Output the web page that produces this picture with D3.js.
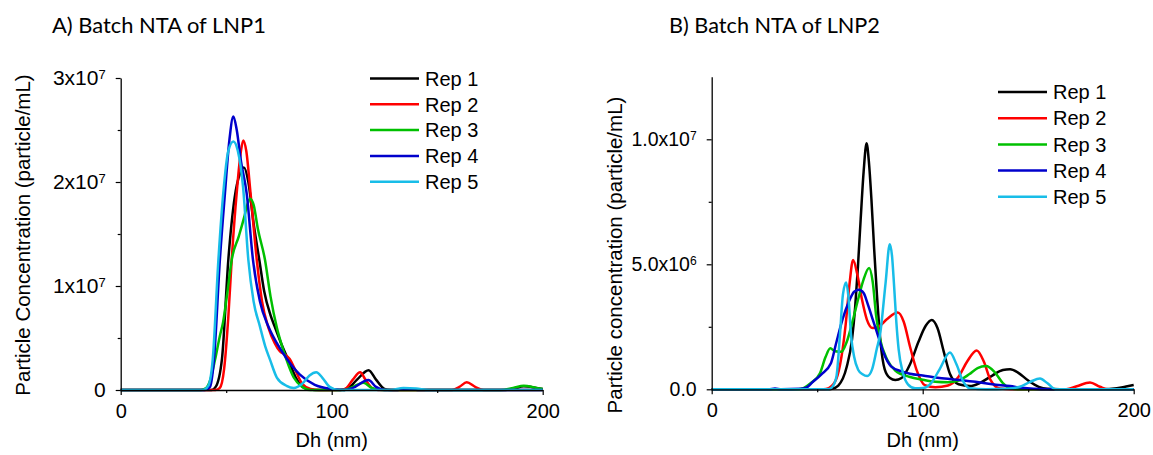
<!DOCTYPE html>
<html>
<head>
<meta charset="utf-8">
<script src="https://cdn.jsdelivr.net/npm/d3@7"></script>
<style>
  html, body { margin: 0; padding: 0; background: #fff; }
  svg { display: block; }
  text { font-family: 'Liberation Sans', Arial, sans-serif; fill: #000; }
  .title { font-family: Lato, 'Open Sans', sans-serif; }
</style>
</head>
<body>
<svg id="chart" width="1153" height="455"></svg>
<script>
// ---------------- DATA ----------------
const repNames = ["Rep 1", "Rep 2", "Rep 3", "Rep 4", "Rep 5"];
const dhTicks = [0, 100, 200];
const dhMinorTicks = [50, 150];

// Panel A: Batch NTA of LNP1 — [Dh (nm), particle/mL]
const lnp1Rep1 = [[0,0],[43,0],[45,0.03e7],[48,0.3e7],[51,1.25e7],[54,1.85e7],[56.5,2.08e7],[58.4,2.14e7],[60.5,2.0e7],[63,1.6e7],[65.7,1.25e7],[68,0.95e7],[71,0.72e7],[73,0.61e7],[76,0.45e7],[79.4,0.29e7],[83,0.12e7],[87,0.02e7],[92,0],[104,0],[108,0.02e7],[112,0.1e7],[117.5,0.19e7],[121,0.1e7],[125,0.01e7],[128,0],[180,0],[186,0.01e7],[191,0.035e7],[197,0.02e7],[200,0.01e7]];
const lnp1Rep2 = [[0,0],[45,0],[47,0.02e7],[49,0.2e7],[51,0.7e7],[52.6,1.25e7],[55,1.9e7],[57,2.3e7],[58.1,2.4e7],[59.5,2.3e7],[61.5,1.9e7],[64.5,1.25e7],[67,0.85e7],[70,0.6e7],[73,0.45e7],[75.5,0.37e7],[78,0.34e7],[80,0.3e7],[83,0.18e7],[86,0.06e7],[90,0.01e7],[94,0],[104,0],[107,0.02e7],[110,0.1e7],[113.5,0.17e7],[116,0.1e7],[119,0.02e7],[122,0],[157,0],[160.5,0.03e7],[164,0.074e7],[168,0.03e7],[172,0],[200,0]];
const lnp1Rep3 = [[0,0],[38,0],[40.5,0.02e7],[42.5,0.1e7],[44.7,0.29e7],[47,0.52e7],[48.5,0.65e7],[50.5,0.93e7],[52.6,1.25e7],[56,1.48e7],[58.5,1.66e7],[60,1.78e7],[61.3,1.84e7],[63,1.78e7],[65,1.55e7],[68.4,1.25e7],[71,0.9e7],[74,0.6e7],[76.5,0.42e7],[78.6,0.29e7],[82,0.12e7],[86,0.03e7],[90,0],[106,0],[110,0.03e7],[115,0.07e7],[119,0.02e7],[124,0],[180,0],[186,0.02e7],[191,0.04e7],[197,0.02e7],[200,0.01e7]];
const lnp1Rep4 = [[0,0],[40,0],[42.3,0.03e7],[44.2,0.29e7],[47,1.25e7],[49.4,1.89e7],[51.5,2.4e7],[53.4,2.63e7],[55,2.5e7],[57,2.2e7],[59.7,1.89e7],[62.7,1.25e7],[66,0.85e7],[70,0.61e7],[74,0.45e7],[78.7,0.3e7],[84.8,0.15e7],[92,0.05e7],[100,0.01e7],[106,0],[110,0.02e7],[117.4,0.096e7],[121,0.03e7],[125,0],[130,0],[136,0.01e7],[142,0],[200,0]];
const lnp1Rep5 = [[0,0],[39,0],[41.5,0.04e7],[43.6,0.29e7],[46.3,1.25e7],[48.6,1.89e7],[51,2.3e7],[53.4,2.39e7],[55.5,2.3e7],[58,1.95e7],[60.5,1.25e7],[63,0.85e7],[66,0.61e7],[68.5,0.42e7],[70.8,0.29e7],[74,0.12e7],[78.6,0.04e7],[82,0.02e7],[86,0.06e7],[89.5,0.14e7],[92.7,0.17e7],[95.5,0.12e7],[99,0.03e7],[103,0],[128,0],[134,0.02e7],[140,0.015e7],[146,0],[200,0]];

// Panel B: Batch NTA of LNP2 — [Dh (nm), particle/mL]
const lnp2Rep1 = [[0,0],[55,0],[57,0.02e6],[60,0.15e6],[64,0.9e6],[66.5,2.0e6],[68,3.3e6],[69.3,4.9e6],[70.6,6.8e6],[72,8.7e6],[73.4,9.84e6],[74.5,9.1e6],[75.7,7.6e6],[77,5.6e6],[78.3,3.8e6],[80,1.9e6],[82,0.8e6],[84.5,0.45e6],[87,0.37e6],[90,0.45e6],[94,1.0e6],[98,1.9e6],[101.5,2.55e6],[104.3,2.77e6],[107,2.45e6],[110,1.5e6],[113,0.6e6],[117,0.2e6],[122.4,0.13e6],[127,0.25e6],[133,0.55e6],[138,0.77e6],[141.4,0.8e6],[145,0.68e6],[150,0.35e6],[155,0.1e6],[159,0.02e6],[165,0],[185,0],[192,0.04e6],[197,0.12e6],[200,0.17e6]];
const lnp2Rep2 = [[0,0],[53,0],[55.5,0.05e6],[59,0.4e6],[61.5,1.3e6],[63.5,2.6e6],[65.3,4.2e6],[67,5.17e6],[69,4.6e6],[71.2,3.6e6],[73.5,2.8e6],[76.3,2.45e6],[79,2.5e6],[83,2.8e6],[88.2,3.07e6],[91,2.7e6],[94,1.7e6],[97,0.8e6],[101,0.17e6],[106,0.08e6],[112,0.15e6],[117,0.5e6],[121,1.1e6],[125.6,1.55e6],[129,1.1e6],[132,0.4e6],[136.6,0.03e6],[142,0],[168,0],[173,0.12e6],[179.3,0.27e6],[184,0.1e6],[188,0],[200,0]];
const lnp2Rep3 = [[0,0],[41,0],[43.5,0.05e6],[47,0.25e6],[51.3,0.64e6],[54,1.3e6],[56.2,1.64e6],[58.5,1.52e6],[61.5,1.5e6],[64,1.9e6],[67,2.8e6],[69.4,3.6e6],[72,4.4e6],[74.6,4.85e6],[76.3,4.3e6],[78,2.9e6],[79.8,2.0e6],[83.2,1.18e6],[87,0.75e6],[93.6,0.5e6],[100,0.38e6],[106,0.3e6],[112,0.28e6],[117,0.35e6],[122,0.6e6],[126,0.85e6],[130,0.93e6],[134,0.7e6],[138,0.25e6],[141.5,0.03e6],[146,0],[200,0]];
const lnp2Rep4 = [[0,0],[27,0],[30,0.03e6],[33,0],[42,0.02e6],[44.4,0.05e6],[48,0.3e6],[52,0.6e6],[56.5,1.04e6],[59,1.85e6],[62,2.8e6],[65,3.5e6],[67.5,3.9e6],[69.8,3.98e6],[72,3.85e6],[74,3.4e6],[76.3,2.8e6],[79,2.1e6],[81.5,1.45e6],[85,0.92e6],[90,0.72e6],[94,0.62e6],[100,0.55e6],[108,0.45e6],[117.7,0.37e6],[125,0.3e6],[133,0.2e6],[141.4,0.13e6],[147,0.06e6],[152.5,0.02e6],[160,0],[200,0]];
const lnp2Rep5 = [[0,0],[55,0],[57,0.08e6],[59.1,0.5e6],[60.8,2.2e6],[62.2,3.8e6],[63.7,4.27e6],[64.9,3.6e6],[66,2.2e6],[67.5,1.3e6],[69.4,0.78e6],[71.5,0.6e6],[73.7,0.53e6],[76,0.8e6],[78.2,1.6e6],[79.8,2.2e6],[82.4,4.25e6],[84.4,5.8e6],[85.5,5.3e6],[86.4,4.2e6],[87.5,2.7e6],[88.6,1.6e6],[90.5,0.7e6],[93,0.2e6],[96.4,0.04e6],[100,0.05e6],[104,0.25e6],[108,0.8e6],[112.9,1.47e6],[116,1.0e6],[119,0.35e6],[122.4,0.04e6],[130,0],[140,0.02e6],[146,0.1e6],[151,0.3e6],[155.6,0.43e6],[159,0.25e6],[163,0],[200,0]];

// Y ticks (value, mantissa, exponent)
const lnp1YTicks = [0, 1e7, 2e7, 3e7];
const lnp1YLabels = [["0",""],["1x10","7"],["2x10","7"],["3x10","7"]];
const lnp1YMinor = [0.5e7, 1.5e7, 2.5e7];
const lnp2YTicks = [0, 5e6, 1e7];
const lnp2YLabels = [["0.0",""],["5.0x10","6"],["1.0x10","7"]];
const lnp2YMinor = [2.5e6, 7.5e6];

// ---------------- DRAW ----------------
const colors = ["#000000", "#ff0000", "#00c000", "#0000cc", "#18bde8"];
const FONT = "'Liberation Sans', Arial, sans-serif";
const svg = d3.select("#chart");

function drawPanel(cfg) {
  const x = d3.scaleLinear().domain([0, 200]).range([cfg.xl, cfg.xr]);
  const y = d3.scaleLinear().domain([0, cfg.yMax]).range([cfg.yb, cfg.yt]);
  const g = svg.append("g");

  // title
  const t = g.append("text").attr("class", "title")
    .attr("x", cfg.titleX).attr("y", 33)
    .style("font-size", "22px").text(cfg.title);
  const tl = t.node().getComputedTextLength();
  t.style("font-size", (22 * cfg.titleW / tl).toFixed(2) + "px");

  // series
  const line = d3.line().x(d => x(d[0])).y(d => y(d[1])).curve(d3.curveMonotoneX);
  cfg.series.forEach((s, i) => {
    g.append("path").datum(s).attr("d", line)
      .attr("fill", "none").attr("stroke", colors[i])
      .attr("stroke-width", 2.5).attr("stroke-linejoin", "round");
  });

  // x axis
  const xa = g.append("g").attr("transform", `translate(0,${cfg.yb})`)
    .call(d3.axisBottom(x).tickValues(dhTicks).tickSize(5).tickSizeOuter(0).tickPadding(9));
  g.append("g").attr("transform", `translate(0,${cfg.yb})`)
    .call(d3.axisBottom(x).tickValues(dhMinorTicks).tickSize(3).tickSizeOuter(0).tickFormat(""))
    .select(".domain").remove();
  xa.selectAll("text").style("font-size", "20px").style("font-family", FONT);

  // y axis
  const ya = g.append("g").attr("transform", `translate(${cfg.xl},0)`)
    .call(d3.axisLeft(y).tickValues(cfg.yTicks).tickSize(5).tickSizeOuter(0).tickPadding(10));
  g.append("g").attr("transform", `translate(${cfg.xl},0)`)
    .call(d3.axisLeft(y).tickValues(cfg.yMinor).tickSize(3).tickSizeOuter(0).tickFormat(""))
    .select(".domain").remove();
  ya.selectAll("text").each(function(d, i) {
    const el = d3.select(this).text(null)
      .style("font-size", cfg.yTickFont + "px")
      .style("font-family", FONT);
    const lab = cfg.yLabels[i];
    el.append("tspan").text(lab[0]);
    if (lab[1]) el.append("tspan").attr("dy", "-0.5em").style("font-size", "0.62em").text(lab[1]);
  });
  g.selectAll(".domain").attr("stroke-width", 1.3);
  g.selectAll(".tick line").attr("stroke-width", 1.2);

  // axis titles
  g.append("text").attr("x", (cfg.xl + cfg.xr) / 2).attr("y", 447)
    .attr("text-anchor", "middle").style("font-size", "20px").style("font-family", FONT).text("Dh (nm)");
  g.append("text")
    .attr("transform", `translate(${cfg.yTitleX},${cfg.yTitleY}) rotate(-90)`)
    .attr("text-anchor", "middle").style("font-size", cfg.yTitleFont + "px")
    .style("font-family", FONT).text(cfg.yTitle);

  // legend
  repNames.forEach((n, i) => {
    const ly = cfg.legY + i * cfg.legStep;
    g.append("line").attr("x1", cfg.legX).attr("x2", cfg.legX + 49)
      .attr("y1", ly).attr("y2", ly).attr("stroke", colors[i]).attr("stroke-width", 2.5);
    g.append("text").attr("x", cfg.legX + 55).attr("y", ly).attr("dy", "0.36em")
      .style("font-size", "20px").style("font-family", FONT).text(n);
  });
}

drawPanel({
  title: "A) Batch NTA of LNP1", titleX: 52, titleW: 214,
  xl: 120.7, xr: 542.7, yb: 390, yt: 78, yMax: 3e7,
  yTicks: lnp1YTicks, yLabels: lnp1YLabels, yMinor: lnp1YMinor, yTickFont: 21,
  series: [lnp1Rep1, lnp1Rep2, lnp1Rep3, lnp1Rep4, lnp1Rep5],
  yTitle: "Particle Concentration (particle/mL)", yTitleX: 30, yTitleY: 235, yTitleFont: 20.5,
  legX: 370, legY: 78.5, legStep: 25.8
});
drawPanel({
  title: "B) Batch NTA of LNP2", titleX: 669, titleW: 211,
  xl: 711.7, xr: 1133.7, yb: 389.3, yt: 76.8, yMax: 1.25e7,
  yTicks: lnp2YTicks, yLabels: lnp2YLabels, yMinor: lnp2YMinor, yTickFont: 19.5,
  series: [lnp2Rep1, lnp2Rep2, lnp2Rep3, lnp2Rep4, lnp2Rep5],
  yTitle: "Particle concentration (particle/mL)", yTitleX: 622, yTitleY: 255, yTitleFont: 20.5,
  legX: 998, legY: 92, legStep: 26.2
});
</script>
</body>
</html>
